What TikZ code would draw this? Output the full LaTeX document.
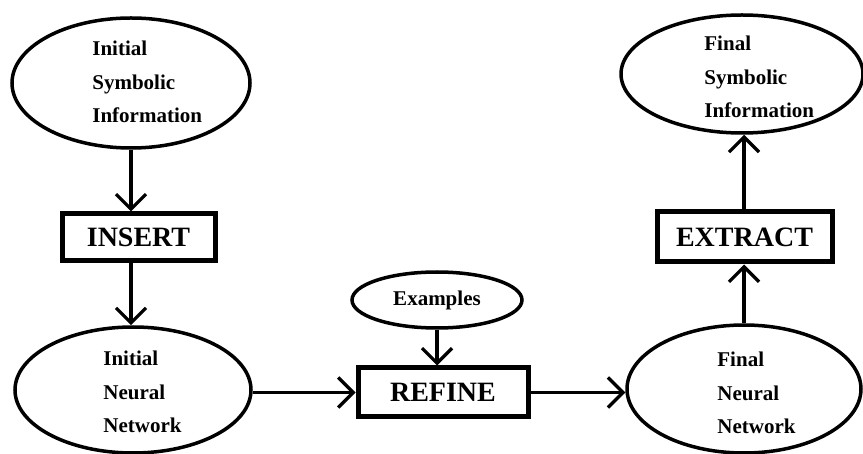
\documentclass[tikz,border=0pt]{standalone}
\usepackage{fontspec}
\setmainfont{Liberation Serif}
\usetikzlibrary{arrows.meta,shapes.geometric}
\begin{document}
\begin{tikzpicture}[x=0.5pt,y=-0.5pt,
  ellip/.style={draw,ellipse,line width=1.75pt,inner sep=0pt,font=\fontsize{10.5}{16.75}\selectfont\bfseries},
  opbox/.style={draw,rectangle,line width=2.5pt,inner sep=0pt,font=\fontsize{14}{16}\selectfont\bfseries},
  lbl/.style={anchor=west,inner sep=0pt,align=left,font=\fontsize{10.5}{16.75}\selectfont\bfseries},
  arr/.style={line width=1.6pt,-{Straight Barb[length=7.5pt,width=15pt]}}]
\useasboundingbox (0,0) rectangle (863,454);
% ellipses
\node[ellip,minimum width=119pt,minimum height=65pt] (isym) at (131,83) {};
\node[lbl] (isymt) at (92,82) {Initial\\Symbolic\\Information};
\node[ellip,minimum width=118pt,minimum height=63pt] (ineu) at (133,390) {};
\node[lbl] (ineut) at (103,392) {Initial\\Neural\\Network};
\node[ellip,minimum width=121pt,minimum height=59pt] (fsym) at (742,74) {};
\node[lbl] (fsymt) at (704,77) {Final\\Symbolic\\Information};
\node[ellip,minimum width=117pt,minimum height=64pt] (fneu) at (744,389) {};
\node[lbl] (fneut) at (717,393) {Final\\Neural\\Network};
\node[ellip,minimum width=85pt,minimum height=28pt] (exmp) at (437,300) {Examples};
% boxes
\node[opbox,minimum width=76.5pt,minimum height=23.5pt] (insert) at (138.5,237.5) {INSERT};
\node[opbox,minimum width=85pt,minimum height=24.5pt] (refine) at (443,392.5) {REFINE};
\node[opbox,minimum width=87.5pt,minimum height=25pt] (extract) at (744.5,237) {EXTRACT};
% connectors
\draw[arr] (isym.south) -- (isym.south |- insert.north);
\draw[arr] (insert.south -| isym.south) -- (isym.south |- ineu.north);
\draw[arr] (refine.west -| ineu.east) -- (refine.west);
\draw[arr] (exmp.south) -- (exmp.south |- refine.north);
\draw[arr] (refine.east) -- (refine.east -| fneu.west);
\draw[arr] (fneu.north) -- (fneu.north |- extract.south);
\draw[arr] (extract.north -| fneu.north) -- (fneu.north |- fsym.south);
\end{tikzpicture}
\end{document}
